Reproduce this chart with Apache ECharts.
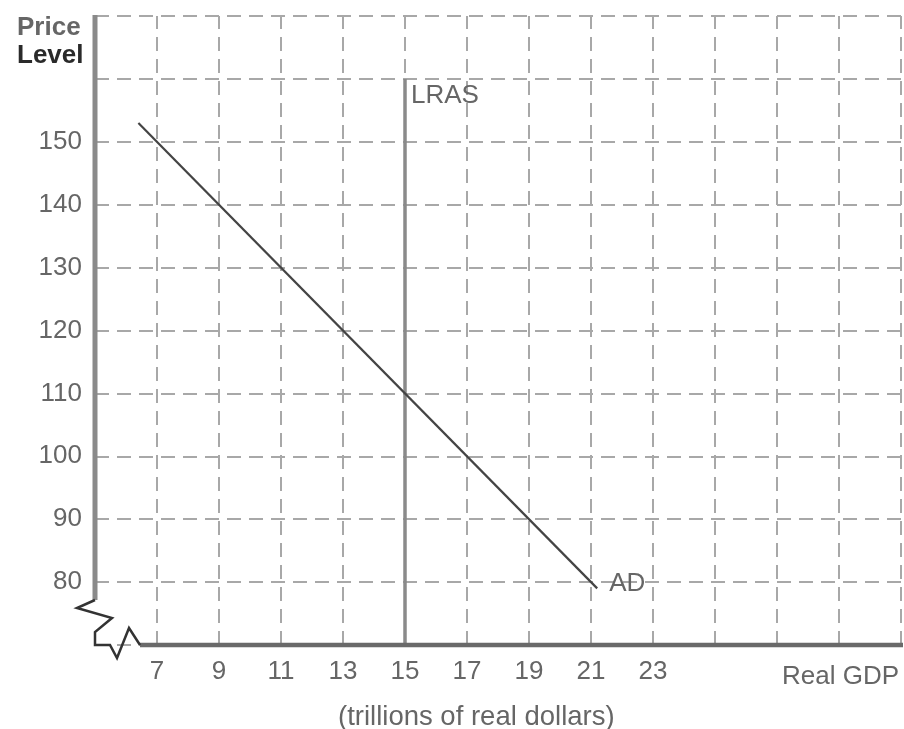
<!DOCTYPE html>
<html>
<head>
<meta charset="utf-8">
<script src="https://cdn.jsdelivr.net/npm/echarts@6/dist/echarts.min.js"></script>
<style>
html,body{margin:0;padding:0;background:#fff;}
#chart{width:904px;height:729px;}
</style>
</head>
<body>
<div id="chart"></div>
<script>
// ---- data ----
const xLabelValues = [7, 9, 11, 13, 15, 17, 19, 21, 23];
const xGridValues = [7, 9, 11, 13, 15, 17, 19, 21, 23, 25, 27, 29, 31];
const yLabelValues = [80, 90, 100, 110, 120, 130, 140, 150];
const adCurve = [[6.4, 153], [21.2, 79]];
const lrasLine = [[15, 70], [15, 160]];
const xRange = [5, 31];
const yRange = [70, 170];

const FONT = '"Liberation Sans", Arial, sans-serif';
const gridDash = [14, 8];

const chart = echarts.init(document.getElementById('chart'), null, {renderer: 'canvas'});

const option = {
  animation: false,
  backgroundColor: '#fff',
  grid: {left: 95, right: 1, top: 16, bottom: 84, containLabel: false},
  title: [
    {
      text: '{p|Price}\n{l|Level}',
      left: 12, top: 9,
      textStyle: {
        rich: {
          p: {fontFamily: FONT, fontSize: 26, fontWeight: 'bold', color: '#666', lineHeight: 28},
          l: {fontFamily: FONT, fontSize: 26, fontWeight: 'bold', color: '#2a2a2a', lineHeight: 28}
        }
      }
    },
    {
      text: 'Real GDP',
      right: 0, top: 659,
      textStyle: {fontFamily: FONT, fontSize: 26, fontWeight: 'normal', color: '#666'}
    },
    {
      text: '(trillions of real dollars)',
      left: 333, top: 698,
      textStyle: {fontFamily: FONT, fontSize: 27.5, fontWeight: 'normal', color: '#666'}
    }
  ],
  xAxis: {
    type: 'value',
    min: xRange[0], max: xRange[1], interval: 1,
    axisLine: {show: false},
    axisTick: {show: false},
    splitLine: {show: false},
    axisLabel: {
      margin: 14,
      fontFamily: FONT, fontSize: 26, color: '#666',
      formatter: v => xLabelValues.includes(v) ? String(v) : ''
    }
  },
  yAxis: {
    type: 'value',
    min: yRange[0], max: yRange[1], interval: 10,
    axisLine: {show: false},
    axisTick: {show: false},
    splitLine: {show: true, lineStyle: {color: '#a8a8a8', width: 2, type: gridDash}},
    axisLabel: {
      margin: 13,
      fontFamily: FONT, fontSize: 26, color: '#666',
      formatter: v => yLabelValues.includes(v) ? String(v) : ''
    }
  },
  series: [
    {
      name: 'grid-x',
      type: 'line',
      data: [],
      silent: true,
      markLine: {
        silent: true,
        symbol: ['none', 'none'],
        label: {show: false},
        lineStyle: {color: '#a8a8a8', width: 2, type: gridDash},
        data: xGridValues.map(v => ({xAxis: v}))
      }
    },
    {
      name: 'LRAS',
      type: 'line',
      data: lrasLine,
      showSymbol: false,
      symbol: 'none',
      lineStyle: {color: '#8a8a8a', width: 3.5},
      z: 5,
      endLabel: {
        show: true, formatter: 'LRAS', distance: 6, offset: [0, 17],
        fontFamily: FONT, fontSize: 26, color: '#666'
      }
    },
    {
      name: 'AD',
      type: 'line',
      data: adCurve,
      showSymbol: false,
      symbol: 'none',
      lineStyle: {color: '#444', width: 2.2},
      z: 6,
      endLabel: {
        show: true, formatter: 'AD', distance: 12, offset: [0, -5],
        fontFamily: FONT, fontSize: 26, color: '#666'
      }
    }
  ]
};

chart.setOption(option);

// axes with a break symbol at the origin
const o = chart.convertToPixel({gridIndex: 0}, [xRange[0], yRange[0]]);
const tl = chart.convertToPixel({gridIndex: 0}, [xRange[0], yRange[1]]);
const br = chart.convertToPixel({gridIndex: 0}, [xRange[1], yRange[0]]);
const ox = o[0], oy = o[1];
const zig = [
  [0, -45], [-18, -37], [17, -27], [0, -13], [0, 0], [15, 0], [22, 13], [34, -17], [45, 0]
].map(p => [ox + p[0], oy + p[1]]);

chart.setOption({
  graphic: [
    {
      type: 'line', z: 100,
      shape: {x1: tl[0], y1: tl[1] - 1, x2: ox, y2: oy - 45},
      style: {stroke: '#8a8a8a', lineWidth: 5}
    },
    {
      type: 'line', z: 100,
      shape: {x1: ox + 45, y1: oy, x2: br[0] + 2, y2: br[1]},
      style: {stroke: '#6a6a6a', lineWidth: 4.5}
    },
    {
      type: 'polyline', z: 101,
      shape: {points: zig},
      style: {stroke: '#333', lineWidth: 2.5, fill: null}
    }
  ]
});
</script>
</body>
</html>
